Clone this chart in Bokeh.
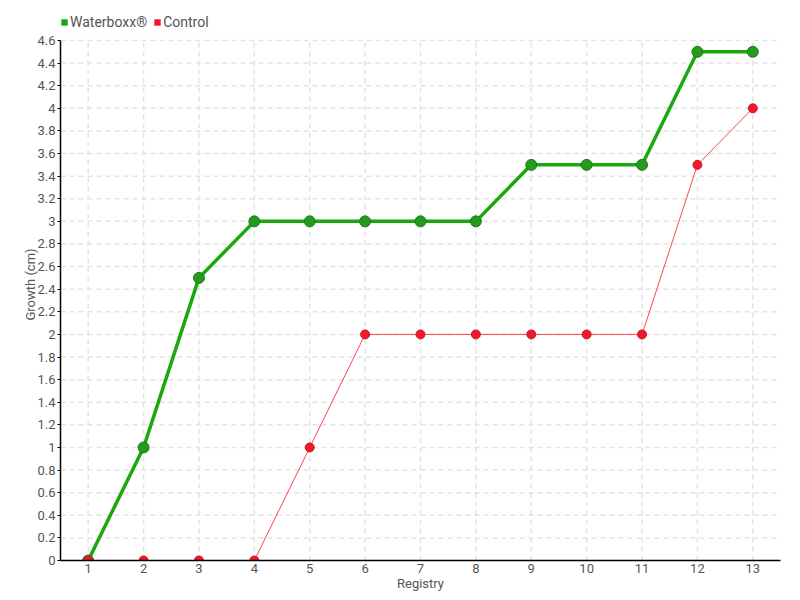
from bokeh.plotting import figure
from bokeh.models import FixedTicker, Legend, LegendItem, Range1d
from bokeh.embed import file_html
from bokeh.resources import INLINE

registry = list(range(1, 14))
waterboxx = [0, 1, 2.5, 3, 3, 3, 3, 3, 3.5, 3.5, 3.5, 4.5, 4.5]
control = [0, 0, 0, 0, 1, 2, 2, 2, 2, 2, 2, 3.5, 4]
y_ticks = [round(i * 0.2, 1) for i in range(24)]
y_labels = [("%g" % t) for t in y_ticks]

FONT = "Roboto, sans-serif"
TXT = "#555555"
GRID = "#e3e3e3"

# frame extends 32px above the data area so the legend can sit inside it
DATA_H = 520
EXTRA = 32
x0, x1 = 0.5, len(registry) + 0.5
y_top = y_ticks[-1] * (DATA_H + EXTRA) / DATA_H

p = figure(width=792, height=596, output_backend="svg", toolbar_location=None,
           x_range=Range1d(x0, x1), y_range=Range1d(0, y_top),
           frame_width=720, frame_height=DATA_H + EXTRA,
           min_border_left=60, min_border_right=12, min_border_top=8, min_border_bottom=5)
p.outline_line_color = None

p.xaxis.ticker = FixedTicker(ticks=registry)
p.yaxis.ticker = FixedTicker(ticks=y_ticks)
p.yaxis.major_label_overrides = {t: l for t, l in zip(y_ticks, y_labels)}
p.yaxis.bounds = (y_ticks[0], y_ticks[-1])
for ax in (p.xaxis, p.yaxis):
    ax.axis_line_color = "black"
    ax.axis_line_width = 1.5
    ax.major_label_text_font = FONT
    ax.major_label_text_font_size = "13px"
    ax.major_label_text_color = TXT
    ax.axis_label_text_font = FONT
    ax.axis_label_text_font_size = "13px"
    ax.axis_label_text_font_style = "normal"
    ax.axis_label_text_color = TXT
    ax.minor_tick_line_color = None
p.yaxis.major_tick_line_color = "black"
p.yaxis.major_tick_in = 0
p.yaxis.major_tick_out = 3
p.yaxis.major_label_standoff = 2
p.xaxis.major_tick_line_color = None
p.xaxis.major_tick_in = 0
p.xaxis.major_tick_out = 0
p.xaxis.major_label_standoff = 3
p.xaxis.axis_label = "Registry"
p.yaxis.axis_label = "Growth (cm)"
p.xaxis.axis_label_standoff = 0
p.yaxis.axis_label_standoff = -4

p.xgrid.grid_line_color = None
p.ygrid.grid_line_color = None
n = len(registry)
m = len(y_ticks)
# grid lines limited to the data area
p.segment(x0=registry, y0=[y_ticks[0]] * n, x1=registry, y1=[y_ticks[-1]] * n,
          line_color=GRID, line_dash="5 4", line_width=1.5)
p.segment(x0=[x0] * m, y0=y_ticks, x1=[x1] * m, y1=y_ticks,
          line_color=GRID, line_dash="5 4", line_width=1.5)

p.line(registry, waterboxx, line_color="#1aa80c", line_width=3.5)
p.scatter(registry, waterboxx, size=11, fill_color="#249a1e", line_color="#1b7a17", line_width=1)
p.line(registry, control, line_color="#ff4252", line_width=1)
p.scatter(registry, control, size=9, fill_color="#ec1a2c", line_color="#d51224", line_width=1)

# zero-area quads: only used to give the legend its square swatches
lg_w = p.quad(left=registry[:1], right=registry[:1], top=waterboxx[:1], bottom=waterboxx[:1],
              fill_color="#1aa80c", line_color=None)
lg_c = p.quad(left=registry[:1], right=registry[:1], top=control[:1], bottom=control[:1],
              fill_color="#ec1a2c", line_color=None)
legend = Legend(items=[LegendItem(label="Waterboxx®", renderers=[lg_w]),
                       LegendItem(label="Control", renderers=[lg_c])],
                orientation="horizontal", location=(0, DATA_H + 10),
                label_text_font=FONT, label_text_font_size="14px",
                label_text_color=TXT, glyph_width=8, glyph_height=8,
                label_standoff=2, spacing=6, padding=0, margin=0,
                label_height=14,
                border_line_color=None, background_fill_alpha=0)
p.add_layout(legend, "center")

open("out.html", "w").write(file_html(p, INLINE))
